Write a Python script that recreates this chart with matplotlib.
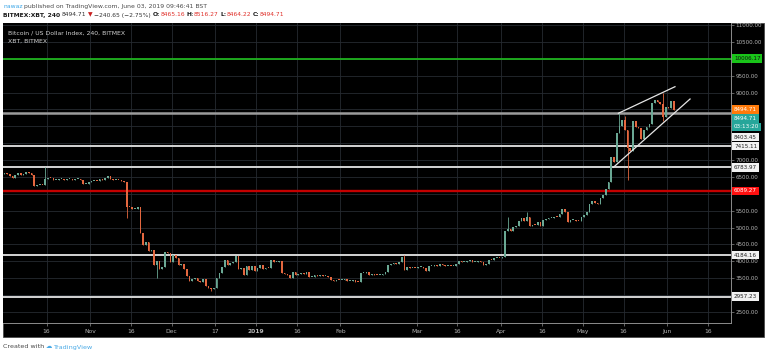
import numpy as np
import pandas as pd
import matplotlib
matplotlib.use("Agg")
import matplotlib.pyplot as plt
import matplotlib.dates as mdates
import matplotlib.transforms as mtransforms
from matplotlib.patches import Rectangle

# daily closes (29 Sep 2018 .. 3 Jun 2019)
close_sep = [6590, 6620]
close_oct = [6590, 6530, 6480, 6570, 6620, 6570, 6600, 6650, 6620, 6560,
             6230, 6260, 6270, 6260, 6450, 6480, 6460, 6410, 6420, 6430,
             6440, 6420, 6430, 6440, 6420, 6430, 6440, 6420, 6290, 6300, 6340]
close_nov = [6370, 6390, 6370, 6450, 6420, 6470, 6540, 6440, 6400, 6410,
             6400, 6380, 6340, 5620, 5600, 5560, 5560, 5620, 4850, 4480,
             4560, 4300, 4330, 3880, 4000, 3760, 3840, 4280, 4260, 3980]
close_dec = [4200, 4100, 3880, 3930, 3760, 3560, 3420, 3480, 3520, 3420,
             3390, 3480, 3270, 3220, 3180, 3200, 3500, 3660, 3820, 4040,
             3890, 3960, 3970, 4150, 3760, 3790, 3600, 3850, 3740, 3860, 3720]
close_jan = [3800, 3880, 3770, 3810, 3800, 4030, 3990, 3990, 4020, 3640,
             3620, 3590, 3520, 3680, 3600, 3630, 3660, 3620, 3680, 3540,
             3550, 3590, 3560, 3580, 3570, 3570, 3540, 3440, 3410, 3460, 3440]
close_feb = [3460, 3490, 3410, 3420, 3440, 3390, 3380, 3650, 3650, 3680,
             3600, 3620, 3600, 3590, 3600, 3620, 3670, 3890, 3920, 3960,
             3920, 3980, 4120, 3740, 3830, 3810, 3810, 3800]
close_mar = [3820, 3820, 3790, 3700, 3860, 3870, 3880, 3860, 3920, 3900,
             3850, 3870, 3860, 3870, 3920, 4000, 3980, 3980, 4010, 4040,
             3980, 3990, 4000, 3990, 3900, 3920, 4050, 4030, 4100, 4110, 4100]
close_apr = [4140, 4900, 4960, 4900, 5030, 5050, 5190, 5280, 5180, 5320,
             5050, 5080, 5070, 5150, 5040, 5210, 5240, 5280, 5290, 5320,
             5300, 5390, 5540, 5450, 5150, 5210, 5230, 5200, 5180, 5300]
close_may = [5360, 5460, 5700, 5780, 5740, 5700, 5880, 5960, 6150, 6340,
             7100, 6950, 7810, 8000, 8200, 7880, 7370, 7280, 8170, 7980,
             7960, 7630, 7880, 7990, 8060, 8700, 8770, 8720, 8660, 8280, 8560]
close_jun = [8550, 8740, 8494.71]
first_open = 6600

# wicks that stand out of the bodies
spike_high = {"2018-10-15": 6800, "2019-02-24": 4190, "2019-04-03": 5320,
              "2019-04-10": 5450, "2019-05-14": 8400, "2019-05-16": 8300,
              "2019-05-30": 9000}
spike_low = {"2018-11-14": 5290, "2018-11-25": 3500, "2018-12-15": 3130,
             "2019-05-17": 6410, "2019-05-30": 8150}

# horizontal levels drawn on the chart
level_prices = [10006.17, 8403.45, 7415.11, 6783.97, 6089.27, 4184.16, 2957.23]
level_labels = ["10006.17", "8403.45", "7415.11", "6783.97", "6089.27", "4184.16", "2957.23"]

# rising wedge
wedge_upper_dates = ["2019-05-14 03:00", "2019-06-03 22:00"]
wedge_upper_prices = [8385, 9172]
wedge_lower_dates = ["2019-05-12 07:00", "2019-06-09 11:00"]
wedge_lower_prices = [6785, 8808]

last_price = "8494.71"
countdown = "03:13:20"

tick_dates = ["2018-10-16", "2018-11-01", "2018-11-16", "2018-12-01", "2018-12-17",
              "2019-01-01", "2019-01-16", "2019-02-01", "2019-03-01", "2019-03-16",
              "2019-04-01", "2019-04-16", "2019-05-01", "2019-05-16", "2019-06-01",
              "2019-06-16"]
tick_labels = ["16", "Nov", "16", "Dec", "17", "2019", "16", "Feb", "Mar", "16",
               "Apr", "16", "May", "16", "Jun", "16"]
# price ticks hidden behind the level labels on the scale
hidden_ticks = [10000, 8500, 8000, 7500, 6000, 3000]

W, H = 768, 357
fig = plt.figure(figsize=(W / 100, H / 100), dpi=100)
fig.patch.set_facecolor("white")

# black chart panel
fig.patches.append(Rectangle((3 / W, 1 - 337 / H), 761 / W, 314 / H,
                             transform=fig.transFigure, fc="black",
                             ec="#4a4a4a", lw=0.6, zorder=0))

ax = fig.add_axes([3 / W, 1 - 323 / H, 728 / W, 300 / H])
ax.set_zorder(2)
ax.set_facecolor("black")

closes = np.array(close_sep + close_oct + close_nov + close_dec + close_jan +
                  close_feb + close_mar + close_apr + close_may + close_jun, dtype=float)
dates = pd.date_range("2018-09-29", periods=len(closes), freq="D")
opens = np.r_[first_open, closes[:-1]]
highs = np.maximum(opens, closes)
lows = np.minimum(opens, closes)
for d, v in spike_high.items():
    i = dates.get_loc(pd.Timestamp(d))
    highs[i] = max(highs[i], v)
for d, v in spike_low.items():
    i = dates.get_loc(pd.Timestamp(d))
    lows[i] = min(lows[i], v)

xs = mdates.date2num(dates) + 0.5
up = closes >= opens
cols = np.where(up, "#6aa894", "#e4673f")
ax.vlines(xs, lows, highs, colors=cols, lw=0.6, zorder=3)
body = np.maximum(np.abs(closes - opens), 30)
ax.bar(xs, body, bottom=np.minimum(opens, closes), width=0.6,
       color=cols, linewidth=0, zorder=3)

# levels
level_styles = [("#1fb31f", 1.3), ("#9c9c9c", 1.8), ("#d4d4d4", 1.4), ("#d4d4d4", 1.4),
                ("#c40000", 1.7), ("#d4d4d4", 1.4), ("#d4d4d4", 1.4)]
for p, (c, lw) in zip(level_prices, level_styles):
    ax.axhline(p, color=c, lw=lw, zorder=2)

ax.plot(pd.to_datetime(wedge_upper_dates), wedge_upper_prices, color="#e6e6e6", lw=0.9, zorder=4)
ax.plot(pd.to_datetime(wedge_lower_dates), wedge_lower_prices, color="#e6e6e6", lw=0.9, zorder=4)

ax.set_xlim(mdates.date2num(pd.Timestamp("2018-09-30")), mdates.date2num(pd.Timestamp("2019-06-24 12:00")))
ax.set_ylim(2173, 11059)

ax.set_xticks(mdates.date2num(pd.to_datetime(tick_dates)))
ax.set_xticklabels(tick_labels)
for lab in ax.get_xticklabels():
    if lab.get_text() == "2019":
        lab.set_fontweight("bold")
yt = np.arange(2500, 11001, 500)
ax.set_yticks(yt)
ax.set_yticklabels(["" if v in hidden_ticks else "%.2f" % v for v in yt])
ax.yaxis.tick_right()
ax.tick_params(axis="y", colors="#8a8a8a", labelcolor="#b4b4b4", labelsize=4.1,
               length=2, width=0.5, pad=1.2)
ax.tick_params(axis="x", colors="#8a8a8a", labelcolor="#b4b4b4", labelsize=4.3,
               length=2, width=0.5, pad=2.5)
ax.grid(True, color="#262a31", lw=0.6, zorder=0)
ax.set_axisbelow(True)
for s in ["top", "left"]:
    ax.spines[s].set_visible(False)
for s in ["right", "bottom"]:
    ax.spines[s].set_color("#8c8c8c")
    ax.spines[s].set_linewidth(0.7)

trans = mtransforms.blended_transform_factory(ax.transAxes, ax.transData)


def price_box(price, text, fc, tc, dy_px=0.0):
    ax.annotate(text, xy=(1, price), xycoords=trans,
                xytext=(2.2, -dy_px * 0.72), textcoords="offset points",
                ha="left", va="center", fontsize=4.1, color=tc,
                bbox=dict(boxstyle="square,pad=0.3", fc=fc, ec="none"),
                annotation_clip=False, zorder=10)


box_styles = [("#19c419", "#101010"), ("#f2f2f2", "#202020"), ("#f2f2f2", "#202020"),
              ("#f2f2f2", "#202020"), ("#ff1010", "#ffffff"), ("#f2f2f2", "#202020"),
              ("#f2f2f2", "#202020")]
shifts = [0, 24.6, 0, 0, 0, 0, 0]
for p, lab, (fc, tc), dy in zip(level_prices, level_labels, box_styles, shifts):
    price_box(p, lab, fc, tc, dy)
price_box(closes[-1], last_price, "#ff7a0a", "#ffffff")
price_box(closes[-1], last_price, "#26a69a", "#ffffff", 8.8)
price_box(closes[-1], countdown, "#26a69a", "#ffffff", 17.2)

# titles inside the panel
fig.text(8 / W, 1 - 33 / H, "Bitcoin / US Dollar Index, 240, BITMEX",
         color="#d2d2d2", fontsize=4.4, va="center", zorder=5)
fig.text(8 / W, 1 - 41.5 / H, "XBT, BITMEX", color="#d2d2d2", fontsize=4.4,
         va="center", zorder=5)

renderer = fig.canvas.get_renderer()


def text_runs(x_px, y_px, runs, size):
    x = x_px
    for s, color, weight, gap in runs:
        t = fig.text(x / W, 1 - y_px / H, s, color=color, fontsize=size,
                     fontweight=weight, va="center", ha="left")
        x += t.get_window_extent(renderer=renderer).width + gap


text_runs(3, 6.5, [("nawaz", "#3aa6e8", "normal", 1.3),
                   ("published on TradingView.com, June 03, 2019 09:46:41 BST", "#4a4a4a", "normal", 0)], 4.4)
red = "#e0302a"
text_runs(3, 15, [("BITMEX:XBT, 240", "#1a1a1a", "bold", 2),
                  ("8494.71", "#333333", "normal", 1.5),
                  ("\u25bc", "#c81e1e", "normal", 1.5),
                  ("\u2212240.65 (\u22122.75%)", "#333333", "normal", 1.8),
                  ("O:", "#1a1a1a", "bold", 0), ("8465.16", red, "normal", 1.8),
                  ("H:", "#1a1a1a", "bold", 0), ("8516.27", red, "normal", 1.8),
                  ("L:", "#1a1a1a", "bold", 0), ("8464.22", red, "normal", 1.8),
                  ("C:", "#1a1a1a", "bold", 0), ("8494.71", red, "normal", 0)], 4.3)

text_runs(3, 347, [("Created with", "#4a4a4a", "normal", 1.5),
                   ("\u2601", "#48a9e6", "normal", 1),
                   ("TradingView", "#48a9e6", "normal", 0)], 4.6)

fig.savefig("out.png", dpi=100, facecolor="white")
